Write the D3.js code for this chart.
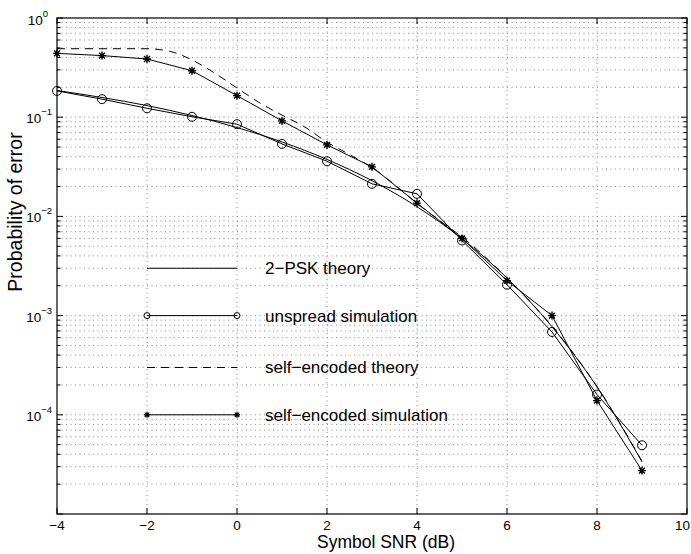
<!DOCTYPE html>
<html>
<head>
<meta charset="utf-8">
<script src="https://cdn.jsdelivr.net/npm/d3@7"></script>
<style>
  body { margin: 0; background: #fff; }
  svg { font-family: "Liberation Sans", Arial, Helvetica, sans-serif; }
</style>
</head>
<body>
<svg id="chart" width="691" height="554">
  <g id="grid"></g>
  <g id="lines"></g>
  <g id="legend"></g>
  <g id="axes"></g>
</svg>
<script>
// values
let snr = [-4, -3, -2, -1, 0, 1, 2, 3, 4, 5, 6, 7, 8, 9];
let psk_theory = [0.186, 0.158, 0.131, 0.104, 0.0786, 0.0563, 0.0375, 0.0229, 0.0125,
                  0.00595, 0.00239, 0.000773, 0.000191, 0.0000336];
let unspread_sim = [0.184, 0.152, 0.123, 0.101, 0.085, 0.0538, 0.036, 0.0213, 0.0169,
                    0.00572, 0.00205, 0.000684, 0.00016, 0.0000493];
let self_sim = [0.44, 0.418, 0.386, 0.294, 0.165, 0.0918, 0.0526, 0.0316, 0.0136,
                0.006, 0.00225, 0.001, 0.000139, 0.0000274];
let self_theory_snr = [-4, -3, -2, -1.5, -1, -0.5, 0, 0.5, 1, 1.5, 2, 2.5, 3, 3.5, 4,
                       4.5, 5, 6, 7, 8, 9];
let self_theory = [0.49, 0.49, 0.49, 0.462, 0.378, 0.279, 0.197, 0.14, 0.105, 0.08, 0.056,
                   0.042, 0.031, 0.021, 0.0135, 0.0091, 0.0062, 0.0024, 0.00078, 0.000193, 0.000034];

let x_ticks = [-4, -2, 0, 2, 4, 6, 8, 10];
let y_labels = [1e-4, 1e-3, 1e-2, 1e-1, 1];
let legend_labels = ["2\u2212PSK theory", "unspread simulation", "self\u2212encoded theory", "self\u2212encoded simulation"];
let legend_levels = [3e-3, 1e-3, 3e-4, 1e-4];
let legend_span = [-2, 0];

let width = 691,
  height = 554,
  margins = {left: 57, right: 4, top: 18, bottom: 40};

let star = "M-4,0H4M0,-4V4M-2.9,-2.9L2.9,2.9M-2.9,2.9L2.9,-2.9",
  small_star = "M-3,0H3M0,-3V3M-2.2,-2.2L2.2,2.2M-2.2,2.2L2.2,-2.2";

function make_scales() {
  return {
    x: d3.scaleLinear().domain([-4, 10]).range([margins.left, width - margins.right]),
    y: d3.scaleLog().domain([1e-5, 1]).range([height - margins.bottom, margins.top])
  }
}

function is_decade(v) {
  return Math.abs(Math.log10(v) - Math.round(Math.log10(v))) < 1e-9
}

function grid(scales) {
  let g = d3.select("#grid");
  let [x0, x1] = scales.x.range(), [y0, y1] = scales.y.range();

  g.selectAll(".hgrid")
    .data(scales.y.ticks().filter(v => v > 1.5e-5 && v < 0.99))
    .enter().append("line")
    .attr("class", "hgrid")
    .attr("x1", x0).attr("x2", x1)
    .attr("y1", d => scales.y(d)).attr("y2", d => scales.y(d))
    .attr("stroke", "#7a7a7a").attr("stroke-width", 0.9)
    .attr("stroke-dasharray", "1,3.5")

  g.selectAll(".vgrid")
    .data(x_ticks.filter(v => v > -4 && v < 10))
    .enter().append("line")
    .attr("class", "vgrid")
    .attr("x1", d => scales.x(d)).attr("x2", d => scales.x(d))
    .attr("y1", y1).attr("y2", y0)
    .attr("stroke", "#7a7a7a").attr("stroke-width", 0.9)
    .attr("stroke-dasharray", "1,3.5")
}

function series(scales) {
  let g = d3.select("#lines");
  let smooth = d3.line().x(d => scales.x(d[0])).y(d => scales.y(d[1])).curve(d3.curveMonotoneX),
    straight = d3.line().x(d => scales.x(d[0])).y(d => scales.y(d[1]));

  g.append("path")
    .attr("d", smooth(d3.zip(snr, psk_theory)))
    .attr("fill", "none").attr("stroke", "#000").attr("stroke-width", 1)

  g.append("path")
    .attr("d", smooth(d3.zip(self_theory_snr, self_theory)))
    .attr("fill", "none").attr("stroke", "#000").attr("stroke-width", 1)
    .attr("stroke-dasharray", "8,6")

  g.append("path")
    .attr("d", straight(d3.zip(snr, unspread_sim)))
    .attr("fill", "none").attr("stroke", "#000").attr("stroke-width", 1)

  g.append("path")
    .attr("d", straight(d3.zip(snr, self_sim)))
    .attr("fill", "none").attr("stroke", "#000").attr("stroke-width", 1)

  g.selectAll(".circ")
    .data(d3.zip(snr, unspread_sim))
    .enter().append("circle")
    .attr("class", "circ")
    .attr("cx", d => scales.x(d[0])).attr("cy", d => scales.y(d[1]))
    .attr("r", 4.5)
    .attr("fill", "none").attr("stroke", "#000").attr("stroke-width", 1)

  g.selectAll(".star")
    .data(d3.zip(snr, self_sim))
    .enter().append("path")
    .attr("class", "star")
    .attr("transform", d => `translate(${scales.x(d[0])},${scales.y(d[1])})`)
    .attr("d", star)
    .attr("stroke", "#000").attr("stroke-width", 1.4)
}

function legend(scales) {
  let g = d3.select("#legend");
  let xa = scales.x(legend_span[0]), xb = scales.x(legend_span[1]);

  legend_levels.forEach((lv, i) => {
    let yy = scales.y(lv);
    let ln = g.append("line")
      .attr("x1", xa).attr("x2", xb).attr("y1", yy).attr("y2", yy)
      .attr("stroke", "#000").attr("stroke-width", 1)
    if (i == 2) ln.attr("stroke-dasharray", "8,6")
    if (i == 1) {
      [xa, xb].forEach(px => g.append("circle")
        .attr("cx", px).attr("cy", yy).attr("r", 3)
        .attr("fill", "none").attr("stroke", "#000"))
    }
    if (i == 3) {
      [xa, xb].forEach(px => g.append("path")
        .attr("transform", `translate(${px},${yy})`)
        .attr("d", small_star).attr("stroke", "#000").attr("stroke-width", 1.2))
    }
    g.append("text")
      .attr("x", xb + 28).attr("y", yy + 6)
      .attr("font-size", 17)
      .text(legend_labels[i])
  })
}

function annotations(scales) {
  let g = d3.select("#axes");
  let [x0, x1] = scales.x.range(), [y0, y1] = scales.y.range();

  // tick marks, inside on all four sides
  x_ticks.forEach(t => {
    g.append("line").attr("x1", scales.x(t)).attr("x2", scales.x(t))
      .attr("y1", y0).attr("y2", y0 - 6).attr("stroke", "#000")
    g.append("line").attr("x1", scales.x(t)).attr("x2", scales.x(t))
      .attr("y1", y1).attr("y2", y1 + 6).attr("stroke", "#000")
    // last label would spill past the window edge, so pin it inside
    let at_edge = scales.x(t) + 8 > width;
    g.append("text")
      .attr("x", at_edge ? width - 1 : scales.x(t)).attr("y", y0 + 16)
      .attr("text-anchor", at_edge ? "end" : "middle").attr("font-size", 13.5)
      .text(String(t).replace("-", "\u2212"))
  })

  scales.y.ticks().forEach(v => {
    let len = is_decade(v) ? 6 : 3.5, yy = scales.y(v);
    g.append("line").attr("x1", x0).attr("x2", x0 + len)
      .attr("y1", yy).attr("y2", yy).attr("stroke", "#000")
    g.append("line").attr("x1", x1).attr("x2", x1 - len)
      .attr("y1", yy).attr("y2", yy).attr("stroke", "#000")
  })

  y_labels.forEach(v => {
    let p = Math.round(Math.log10(v)), yy = scales.y(v);
    let lbl = g.append("text")
      .attr("x", p == 0 ? x0 - 9 : x0 - 5).attr("y", p == 0 ? yy + 7 : yy + 6)
      .attr("text-anchor", "end").attr("font-size", 13.5)
    lbl.append("tspan").text("10")
    lbl.append("tspan").attr("dy", -8).attr("font-size", 9.5)
      .text(String(p).replace("-", "\u2212"))
  })

  g.append("rect")
    .attr("x", x0).attr("y", y1)
    .attr("width", x1 - x0).attr("height", y0 - y1)
    .attr("fill", "none").attr("stroke", "#000").attr("stroke-width", 1.2)

  g.append("text")
    .attr("x", 386).attr("y", height - 6)
    .attr("text-anchor", "middle").attr("font-size", 17.5)
    .text("Symbol SNR (dB)")

  g.append("text")
    .attr("transform", `translate(22, 212)rotate(-90)`)
    .attr("text-anchor", "middle").attr("font-size", 19.5)
    .text("Probability of error")
}

let scales = make_scales();
grid(scales);
series(scales);
legend(scales);
annotations(scales);
</script>
</body>
</html>
